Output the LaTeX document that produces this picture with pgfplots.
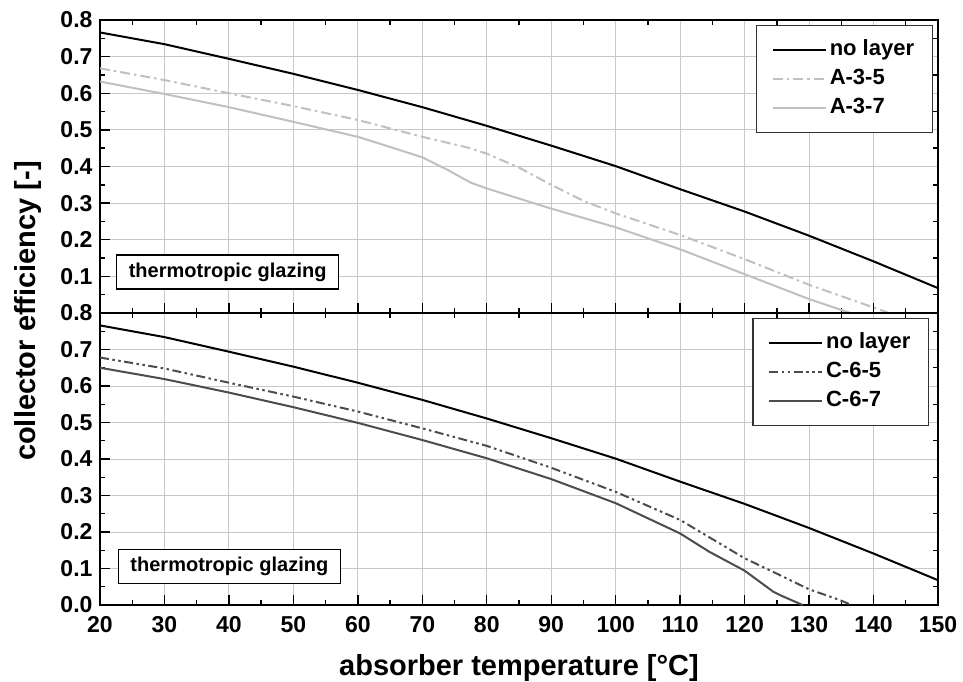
\documentclass[border=0pt]{standalone}
\usepackage{fontspec}
\setmainfont{Liberation Sans}
\usepackage{pgfplots}
\pgfplotsset{compat=1.18}

\definecolor{lightcurve}{HTML}{C0C0C0}
\definecolor{darkcurve}{HTML}{4C4C4C}
\definecolor{gridgray}{HTML}{C8C8C8}

\tikzset{
  nolayer/.style={black, line width=2pt},
  dashdot/.style={dash pattern=on 10pt off 4pt on 2.5pt off 4pt},
  dashdotdot/.style={dash pattern=on 9pt off 3.5pt on 2.5pt off 3.5pt on 2.5pt off 3.5pt},
  glazing/.style={draw=black, line width=1.2pt, fill=white, minimum width=222pt,
    minimum height=34pt, inner sep=0pt, font=\fontsize{20}{20}\selectfont\bfseries},
}

\pgfplotsset{
  panel/.style={
    scale only axis, width=838pt,
    xmin=20, xmax=150, ymin=0, ymax=0.8,
    xtick={20,30,40,50,60,70,80,90,100,110,120,130,140,150},
    ytick={0,0.1,0.2,0.3,0.4,0.5,0.6,0.7,0.8},
    minor x tick num=1, minor y tick num=1,
    tick align=inside, xtick pos=left, ytick pos=left,
    major tick length=10pt, minor tick length=5pt,
    tick style={black, line width=1.4pt},
    axis line style={line width=2pt},
    tick label style={font=\fontsize{23}{23}\selectfont\bfseries},
    xticklabel style={yshift=-8pt},
    yticklabel style={xshift=-4pt},
    /pgf/number format/assume math mode=true,
    legend cell align=left,
    legend style={
      anchor=north east, draw=black!80, line width=1.2pt, fill=white,
      font=\fontsize{22}{22}\selectfont\bfseries,
      inner xsep=15pt, inner ysep=10pt, row sep=0pt,
      nodes={inner xsep=3pt, inner ysep=4pt, text height=16pt, text depth=5pt},
    },
    legend image code/.code={\draw[#1] (0pt,0pt) -- (53pt,0pt);},
  },
  gridded/.style={panel, grid=major, major grid style={gridgray, line width=0.9pt}},
  mirror/.style={panel, xtick pos=right, ytick pos=right,
    major tick style={draw=none}, xticklabels={}, yticklabels={},
    axis line style={draw=none}},
}

\begin{document}
\begin{tikzpicture}
\path[use as bounding box] (0pt,0pt) rectangle (963pt,681pt);

% upper panel: A-series layers
\begin{axis}[gridded, at={(100pt,368pt)}, anchor=south west, height=293pt,
  xticklabels={},
  yticklabels={,0.1,0.2,0.3,0.4,0.5,0.6,0.7,0.8},
  legend style={at={(0.9937,0.983)}}]
\addplot[nolayer] coordinates {
  (20,0.766) (30,0.734) (40,0.694) (50,0.653) (60,0.609) (70,0.562) (80,0.511)
  (90,0.457) (100,0.401) (110,0.338) (120,0.277) (130,0.211) (140,0.141) (150,0.068)};
\addlegendentry{no layer}
\addplot[lightcurve, line width=2pt, dashdot] coordinates {
  (20,0.668) (30,0.636) (40,0.600) (50,0.565) (60,0.527) (70,0.481) (77,0.452)
  (80,0.435) (85,0.397) (90,0.350) (95,0.306) (100,0.272) (110,0.213) (120,0.147)
  (130,0.077) (140,0.015) (142.4,0)};
\addlegendentry{A-3-5}
\addplot[lightcurve, line width=2pt] coordinates {
  (20,0.632) (30,0.598) (40,0.562) (50,0.522) (60,0.481) (64,0.459) (70,0.425)
  (74,0.390) (77.5,0.356) (80,0.340) (90,0.285) (100,0.234) (110,0.174) (120,0.106)
  (130,0.038) (136.4,0)};
\addlegendentry{A-3-7}
\node[glazing] at (rel axis cs:0.1524,0.140) {thermotropic glazing};
\end{axis}
\begin{axis}[mirror, at={(100pt,368pt)}, anchor=south west, height=293pt]
\end{axis}

% lower panel: C-series layers
\begin{axis}[gridded, at={(100pt,76pt)}, anchor=south west, height=292pt,
  xticklabels={20,30,40,50,60,70,80,90,100,110,120,130,140,150},
  yticklabels={0.0,0.1,0.2,0.3,0.4,0.5,0.6,0.7,0.8},
  legend style={at={(0.9893,0.983)}}]
\addplot[nolayer] coordinates {
  (20,0.766) (30,0.734) (40,0.694) (50,0.653) (60,0.609) (70,0.562) (80,0.511)
  (90,0.457) (100,0.401) (110,0.338) (120,0.277) (130,0.211) (140,0.141) (150,0.068)};
\addlegendentry{no layer}
\addplot[darkcurve, line width=2pt, dashdotdot] coordinates {
  (20,0.678) (30,0.648) (40,0.609) (50,0.571) (60,0.530) (70,0.484) (80,0.436)
  (90,0.376) (100,0.310) (110,0.233) (120,0.128) (124.4,0.091) (130,0.043)
  (134.7,0.014) (136.6,0)};
\addlegendentry{C-6-5}
\addplot[darkcurve, line width=2pt] coordinates {
  (20,0.650) (30,0.619) (40,0.582) (50,0.542) (60,0.499) (70,0.452) (80,0.402)
  (90,0.345) (100,0.279) (110,0.196) (114.5,0.146) (120,0.094) (124.4,0.037)
  (125.5,0.027) (129,0)};
\addlegendentry{C-6-7}
\node[glazing] at (rel axis cs:0.1544,0.131) {thermotropic glazing};
\end{axis}
\begin{axis}[mirror, at={(100pt,76pt)}, anchor=south west, height=292pt]
\end{axis}

% axis titles
\node[rotate=90, anchor=base, font=\fontsize{29}{29}\selectfont\bfseries]
  at (35pt,370pt) {collector efficiency [-]};
\node[anchor=base, font=\fontsize{29}{29}\selectfont\bfseries]
  at (519pt,6pt) {absorber temperature [°C]};
\end{tikzpicture}
\end{document}
